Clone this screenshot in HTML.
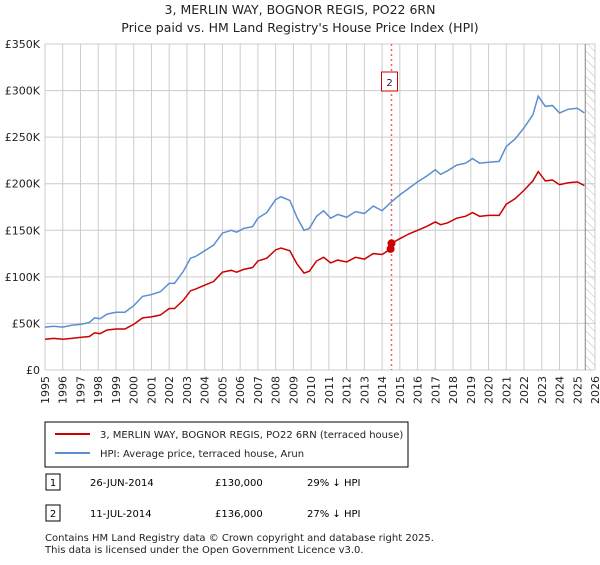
<!DOCTYPE html>
<html><head><meta charset="utf-8"><style>
body{margin:0;background:#fff;font-family:"Liberation Sans","DejaVu Sans",sans-serif;}
svg text{font-family:"DejaVu Sans","Liberation Sans",sans-serif;}
</style></head><body>
<svg width="600" height="560" viewBox="0 0 600 560" xmlns="http://www.w3.org/2000/svg">
<defs><pattern id="hatch" width="6" height="6" patternUnits="userSpaceOnUse" patternTransform="rotate(-45)"><line x1="0" y1="0" x2="0" y2="6" stroke="#bbb" stroke-width="1"/></pattern></defs>
<text x="300" y="14" text-anchor="middle" font-size="12.5" fill="#222">3, MERLIN WAY, BOGNOR REGIS, PO22 6RN</text>
<text x="300" y="32" text-anchor="middle" font-size="12.5" fill="#222">Price paid vs. HM Land Registry's House Price Index (HPI)</text>
<g id="grid"></g>
<g id="axes"></g>
<g id="series"></g>
<rect x="45" y="422" width="363" height="45" fill="#fff" stroke="#000" stroke-width="1"/>
<line x1="55" y1="434" x2="90" y2="434" stroke="#cc0000" stroke-width="2"/>
<text x="100" y="438" font-size="10" fill="#222">3, MERLIN WAY, BOGNOR REGIS, PO22 6RN (terraced house)</text>
<line x1="55" y1="453" x2="90" y2="453" stroke="#5b8fd0" stroke-width="2"/>
<text x="100" y="457" font-size="10" fill="#222">HPI: Average price, terraced house, Arun</text>
<g>
<rect x="46" y="474" width="14" height="16" fill="#fff" stroke="#000"/>
<text x="53" y="486" text-anchor="middle" font-size="10">1</text>
<text x="90" y="486" font-size="10">26-JUN-2014</text>
<text x="215" y="486" font-size="10">£130,000</text>
<text x="307" y="486" font-size="10">29% ↓ HPI</text></g>
<g>
<rect x="46" y="505" width="14" height="16" fill="#fff" stroke="#000"/>
<text x="53" y="517" text-anchor="middle" font-size="10">2</text>
<text x="90" y="517" font-size="10">11-JUL-2014</text>
<text x="215" y="517" font-size="10">£136,000</text>
<text x="307" y="517" font-size="10">27% ↓ HPI</text></g>
<text x="45" y="541" font-size="10" fill="#222">Contains HM Land Registry data © Crown copyright and database right 2025.</text>
<text x="45" y="553" font-size="10" fill="#222">This data is licensed under the Open Government Licence v3.0.</text>
</svg>
<script>
const years=[1995,1996,1997,1998,1999,2000,2001,2002,2003,2004,2005,2006,2007,2008,2009,2010,2011,2012,2013,2014,2015,2016,2017,2018,2019,2020,2021,2022,2023,2024,2025,2026];
const yTicks=[0,50,100,150,200,250,300,350];
const yTickLabels=["£0","£50K","£100K","£150K","£200K","£250K","£300K","£350K"];
const hpiT=[1995,1995.5,1996,1996.5,1997,1997.5,1997.8,1998.1,1998.5,1999,1999.5,2000,2000.5,2001,2001.5,2002,2002.3,2002.8,2003.2,2003.5,2004,2004.5,2005,2005.5,2005.8,2006.2,2006.7,2007,2007.5,2008,2008.3,2008.8,2009.2,2009.6,2009.9,2010.3,2010.7,2011.1,2011.5,2012,2012.5,2013,2013.5,2014,2014.5,2015,2015.5,2016,2016.5,2017,2017.3,2017.7,2018.2,2018.7,2019.1,2019.5,2020,2020.6,2021,2021.5,2022,2022.5,2022.8,2023.2,2023.6,2024,2024.5,2025,2025.4];
const hpiV=[46,47,46,48,49,51,56,55,60,62,62,69,79,81,84,93,93,106,120,122,128,134,147,150,148,152,154,163,169,183,186,182,164,150,152,165,171,163,167,164,170,168,176,171,180,188,195,202,208,215,210,214,220,222,227,222,223,224,240,248,260,274,294,283,284,276,280,281,276];
const priceT=[1995,1995.5,1996,1996.5,1997,1997.5,1997.8,1998.1,1998.5,1999,1999.5,2000,2000.5,2001,2001.5,2002,2002.3,2002.8,2003.2,2003.5,2004,2004.5,2005,2005.5,2005.8,2006.2,2006.7,2007,2007.5,2008,2008.3,2008.8,2009.2,2009.6,2009.9,2010.3,2010.7,2011.1,2011.5,2012,2012.5,2013,2013.5,2014,2014.48,2014.53,2015,2015.5,2016,2016.5,2017,2017.3,2017.7,2018.2,2018.7,2019.1,2019.5,2020,2020.6,2021,2021.5,2022,2022.5,2022.8,2023.2,2023.6,2024,2024.5,2025,2025.4];
const priceV=[33,34,33,34,35,36,40,39,43,44,44,49,56,57,59,66,66,75,85,87,91,95,105,107,105,108,110,117,120,129,131,128,114,104,106,117,121,115,118,116,121,119,125,124,130,136,141,146,150,154,159,156,158,163,165,169,165,166,166,178,184,193,203,213,203,204,199,201,202,198];
const sales=[[2014.48,130],[2014.53,136]];
const NS="http://www.w3.org/2000/svg";
const X0=45,X1=595,Y0=370,Y1=44;
const xs=t=>X0+(t-1995)/(2026-1995)*(X1-X0);
const ys=v=>Y0-v/350*(Y0-Y1);
function mk(tag,attrs,parent){const e=document.createElementNS(NS,tag);for(const k in attrs)e.setAttribute(k,attrs[k]);parent.appendChild(e);return e;}
const grid=document.getElementById('grid'),axes=document.getElementById('axes'),ser=document.getElementById('series');
years.forEach(y=>{const l=mk('line',{x1:xs(y),x2:xs(y),y1:Y1,y2:Y0,stroke:'#ccc','stroke-width':1},grid);


const t=mk('text',{x:0,y:0,'font-size':11,fill:'#222','text-anchor':'end',transform:`translate(${xs(y)+4},${Y0+6}) rotate(-90)`},axes);
t.textContent=y;

});
yTicks.forEach((v,i)=>{const l=mk('line',{x1:X0,x2:X1,y1:ys(v),y2:ys(v),stroke:'#ccc','stroke-width':1},grid);


const t=mk('text',{x:40,y:ys(v)+4,'font-size':11,fill:'#222','text-anchor':'end'},axes);
t.textContent=yTickLabels[i];

});
const h=mk('rect',{x:xs(2025.45),y:Y1,width:X1-xs(2025.45),height:Y0-Y1,fill:'url(#hatch)'},grid);


mk('line',{x1:xs(2025.45),x2:xs(2025.45),y1:Y1,y2:Y0,stroke:'#888'},grid);
const vl=mk('line',{x1:xs(2014.53),x2:xs(2014.53),y1:Y1,y2:Y0,stroke:'#f06060','stroke-width':1.5,'stroke-dasharray':'2,3'},ser);


const hp=mk('polyline',{points:hpiT.map((t,i)=>xs(t)+','+ys(hpiV[i])).join(' '),fill:'none',stroke:'#5b8fd0','stroke-width':1.5},ser);


const pp=mk('polyline',{points:priceT.map((t,i)=>xs(t)+','+ys(priceV[i])).join(' '),fill:'none',stroke:'#cc0000','stroke-width':1.5},ser);


sales.forEach(s=>{const c=mk('circle',{cx:xs(s[0]),cy:ys(s[1]),r:4,fill:'#cc0000'},ser);

});
const bx=xs(2014.53)-10;
const b=mk('rect',{x:bx,y:72,width:16,height:19,fill:'#fff',stroke:'#cc0000','stroke-width':1},ser);


const bt=mk('text',{x:bx+8,y:86,'font-size':10,'text-anchor':'middle',fill:'#222'},ser);
bt.textContent='2';
</script>
</body></html>
